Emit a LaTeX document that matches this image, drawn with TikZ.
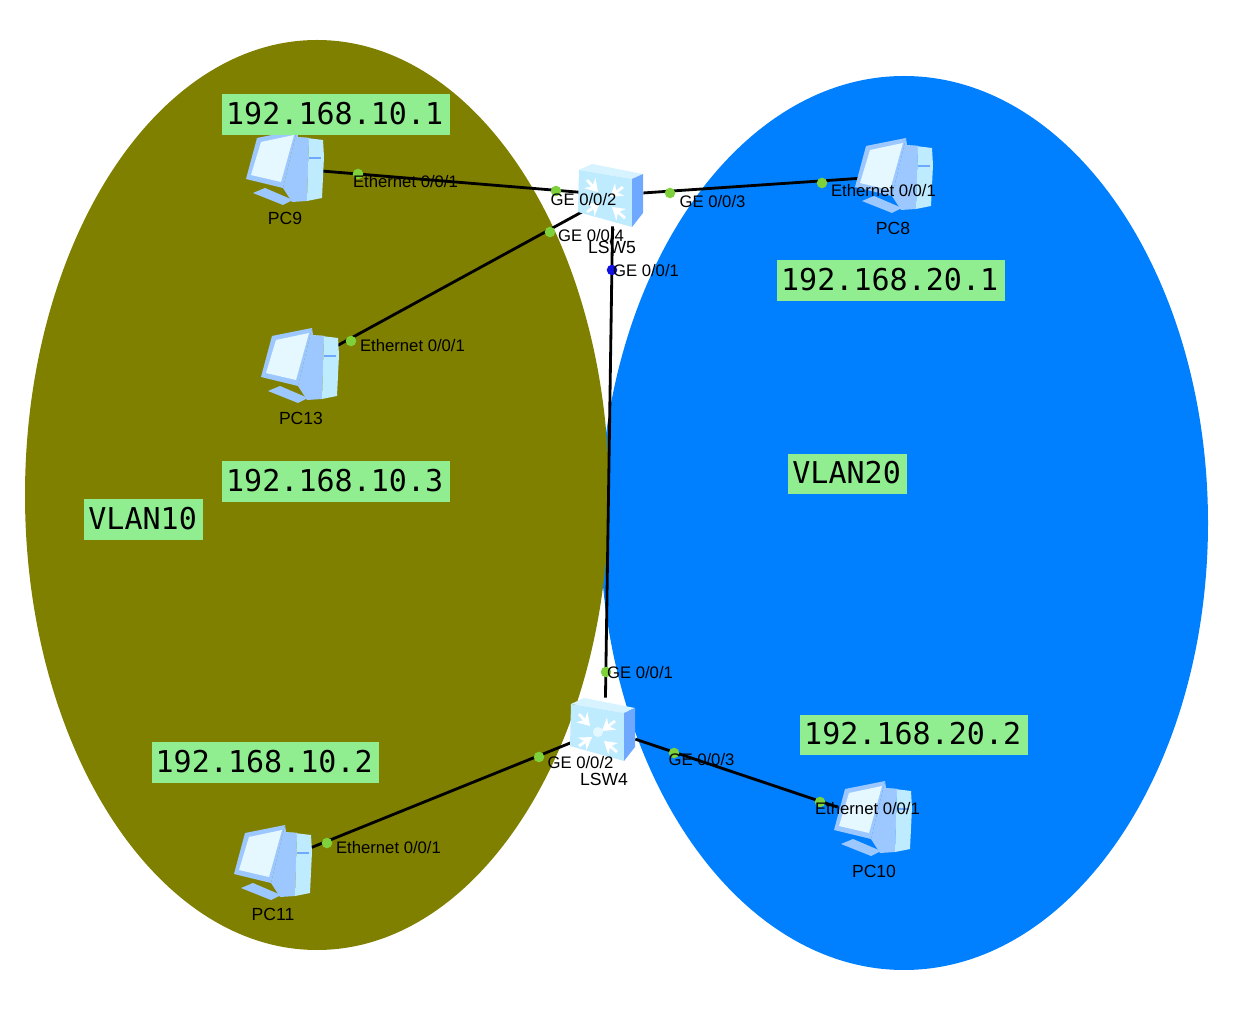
\documentclass[tikz,border=0pt]{standalone}
\usepackage{fontspec}
\setmainfont{Liberation Sans}
\newfontfamily\ipfont{DejaVu Sans Mono}
\usepackage{xcolor}
\usetikzlibrary{arrows.meta,positioning}
\definecolor{VlanOlive}{HTML}{808000}
\definecolor{VlanBlue}{HTML}{0080FF}
\definecolor{TagGreen}{HTML}{90EE90}
\definecolor{PortGreen}{HTML}{7FD13B}
\definecolor{PortBlue}{HTML}{1010E0}
\definecolor{IconLight}{HTML}{BFEBFF}
\definecolor{IconPale}{HTML}{E6F8FF}
\definecolor{IconMid}{HTML}{9CC8FF}
\definecolor{IconDark}{HTML}{6FA8FF}
\tikzset{
pcicon/.pic={
\fill[IconMid] (12,-38) -- (13,-31) -- (24,-30) -- (22,33) -- (7,34) -- (-2,20) -- cycle;
\fill[IconLight] (13,-31) -- (38,-28) -- (39,-11) -- (37,30) -- (22,33) -- (24,-30) -- cycle;
\fill[IconMid] (-32,25) -- (-20,20) -- (8,32) -- (-2,37) -- cycle;
\fill[IconMid] (-28,-30) -- (12,-38) -- (-2,20) -- (-39,11) -- cycle;
\fill[IconPale] (-24,-26) -- (9,-33) -- (-4,14) -- (-34,7) -- cycle;
\fill[IconDark] (24,-11) rectangle (36,-9);
},
switchicon/.pic={
\fill[IconPale!60!IconLight] (-32,-25) -- (-19,-31) -- (32,-21) -- (21,-16) -- cycle;
\fill[IconLight] (-32,-25) -- (21,-16) -- (21,32) -- (-33,17) -- cycle;
\fill[IconDark] (21,-16) -- (32,-21) -- (32,18) -- (21,32) -- cycle;
\draw[swarrow] (-24,-15) -- (-13,-3);
\draw[swarrow] (12,-8) -- (-1,2);
\draw[swarrow] (-24,17) -- (-11,8);
\draw[swarrow] (14,23) -- (1,12);
}
}
\begin{document}
\begin{tikzpicture}[
x=0.02cm,y=-0.02cm,
tagbox/.style={fill=TagGreen,inner sep=0pt,minimum height=8.2mm,text depth=1pt,text height=12pt,font=\ipfont\fontsize{17.1}{20}\selectfont},
ipbox/.style={tagbox,minimum width=45.6mm},
vlanbox/.style={tagbox,minimum width=23.8mm},
pcbox/.style={minimum width=14mm,minimum height=13mm,inner sep=0pt},
swbox/.style={minimum width=12mm,minimum height=12.4mm,inner sep=0pt},
lbl/.style={inner sep=0pt,yshift=-0.5pt,font=\fontsize{9.5}{11}\selectfont},
devlbl/.style={inner sep=0pt,font=\fontsize{10}{12}\selectfont},
port/.style={circle,fill=PortGreen,inner sep=0pt,minimum size=6pt},
link/.style={black,line width=1.6pt},
swarrow/.style={white,line width=1.6pt,-{Stealth[length=2.4mm,width=3mm]}}
]
\useasboundingbox (0,0) rectangle (1248,1023);
\fill[white] (0,0) rectangle (1248,1023);
\fill[VlanBlue] (904,523) ellipse [x radius=304,y radius=447];
\fill[VlanOlive] (317,495) ellipse [x radius=292,y radius=455];

\node[pcbox] (pc9) at (285,168) {};
\node[pcbox] (pc8) at (894,176) {};
\node[pcbox] (pc13) at (300,366) {};
\node[pcbox] (pc11) at (273,863) {};
\node[pcbox] (pc10) at (873,819) {};
\node[swbox] (lsw5) at (613,195) {};
\node[swbox] (lsw4) at (605,729) {};

\draw[link] (pc9) -- (lsw5);
\draw[link] (pc13) -- (lsw5);
\draw[link] (pc8) -- (lsw5);
\draw[link] (lsw5) -- (lsw4);
\draw[link] (pc11) -- (lsw4);
\draw[link] (pc10) -- (lsw4);

\pic at (pc9) {pcicon};
\pic at (pc8) {pcicon};
\pic at (pc13) {pcicon};
\pic at (pc11) {pcicon};
\pic at (pc10) {pcicon};
\pic at (611,195) {switchicon};
\pic at (603,729) {switchicon};
\fill[IconPale] (598,732) circle (5);

\node[port] (d1) at (358,174) {};
\node[port] (d2) at (556,191) {};
\node[port] (d3) at (550,232) {};
\node[port,fill=PortBlue] (d4) at (612,270) {};
\node[port] (d5) at (670,193) {};
\node[port] (d6) at (822,183) {};
\node[port] (d7) at (351,341) {};
\node[port] (d8) at (606,672) {};
\node[port] (d9) at (539,757) {};
\node[port] (d10) at (674,753) {};
\node[port] (d11) at (820,802) {};
\node[port] (d12) at (327,843) {};

\node[lbl] (e9) at (405.5,181) {Ethernet 0/0/1};
\node[lbl] (e8) at (883.5,190) {Ethernet 0/0/1};
\node[lbl] (e13) at (412.5,345) {Ethernet 0/0/1};
\node[lbl] (e11) at (388.5,847) {Ethernet 0/0/1};
\node[lbl] (e10) at (867.5,808) {Ethernet 0/0/1};
\node[lbl] (g1) at (583.5,199) {GE 0/0/2};
\node[lbl] (g2) at (591,235) {GE 0/0/4};
\node[lbl] (g3) at (646,270) {GE 0/0/1};
\node[lbl] (g4) at (712.5,201) {GE 0/0/3};
\node[lbl] (g5) at (640,672) {GE 0/0/1};
\node[lbl] (g6) at (580.5,762) {GE 0/0/2};
\node[lbl] (g7) at (701.5,759) {GE 0/0/3};

\node[devlbl] (n9) at (285,218) {PC9};
\node[devlbl] (n8) at (893,228) {PC8};
\node[devlbl] (n13) at (301,418) {PC13};
\node[devlbl] (n11) at (273,914) {PC11};
\node[devlbl] (n10) at (874,871) {PC10};
\node[devlbl] (n5) at (612,247) {LSW5};
\node[devlbl] (n4) at (604,779) {LSW4};

\node[ipbox] (ip1) at (336,114.5) {\hspace*{-1.5pt}192.168.10.1};
\node[ipbox] (ip3) at (336,481.5) {\hspace*{-1.5pt}192.168.10.3};
\node[ipbox] (ip2) at (265.5,762.5) {\hspace*{-1.5pt}192.168.10.2};
\node[ipbox] (ip4) at (891,280.5) {\hspace*{-1.5pt}192.168.20.1};
\node[ipbox] (ip5) at (914,735) {\hspace*{-1.5pt}192.168.20.2};
\node[vlanbox] (v10) at (143.5,519.5) {\hspace*{-1pt}VLAN10};
\node[vlanbox] (v20) at (847.5,474) {\hspace*{-1pt}VLAN20};
\end{tikzpicture}
\end{document}
